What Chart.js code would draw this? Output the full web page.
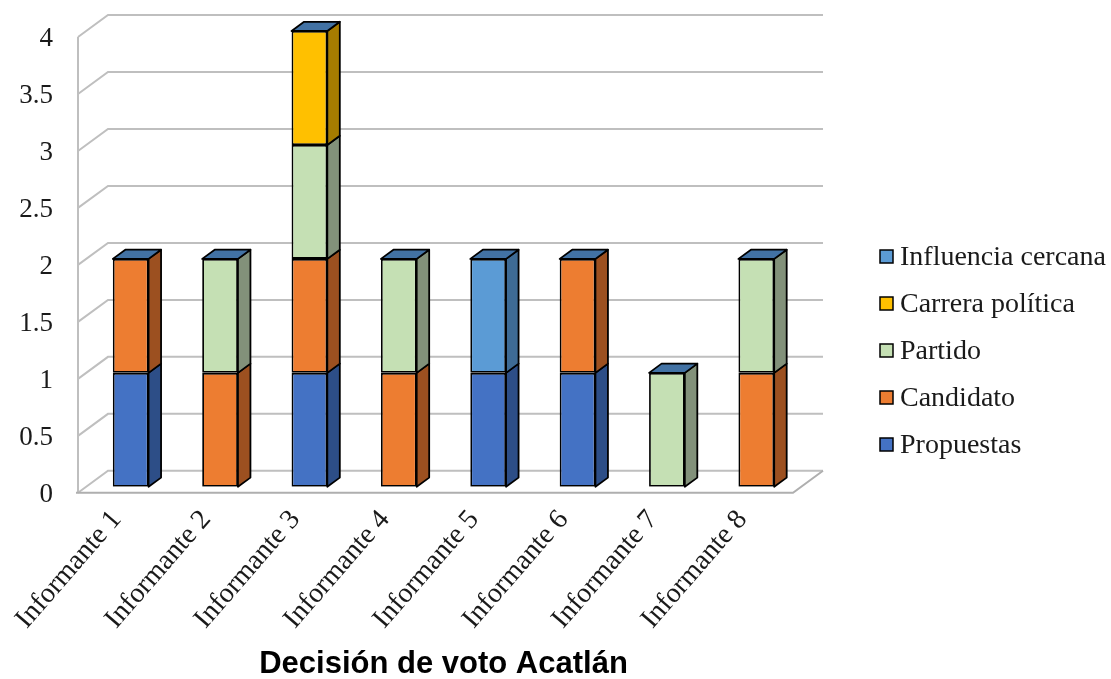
<!DOCTYPE html>
<html>
<head>
<meta charset="utf-8">
<script src="https://cdn.jsdelivr.net/npm/chart.js@4/dist/chart.umd.min.js"></script>
<style>
html,body{margin:0;padding:0;background:#ffffff;}
#wrap{width:1111px;height:679px;position:relative;}
</style>
</head>
<body>
<div id="wrap"><canvas id="c" width="1111" height="679"></canvas></div>
<script>
// ---- data ----
const categories = ['Informante 1','Informante 2','Informante 3','Informante 4','Informante 5','Informante 6','Informante 7','Informante 8'];
const seriesNames = ['Propuestas','Candidato','Partido','Carrera política','Influencia cercana'];
const propuestas = [1,0,1,0,1,1,0,0];
const candidato  = [1,1,1,1,0,1,0,1];
const partido    = [0,1,1,1,0,0,1,1];
const carrera    = [0,0,1,0,0,0,0,0];
const influencia = [0,0,0,0,1,0,0,0];
const yTicks = [0,0.5,1,1.5,2,2.5,3,3.5,4];
const chartTitle = 'Decisión de voto Acatlán';

// ---- styles ----
const frontColors = ['#4472C4','#ED7D31','#C5E0B4','#FFC000','#5B9BD5'];
const sideColors  = ['#2D4E87','#9C5020','#82917A','#A67C00','#3E6B95'];
const topColors   = ['#35588F','#B05D24','#9AAE8C','#BF9000','#4272A4'];
const seriesValues = [propuestas, candidato, partido, carrera, influencia];

const D = {bx: 12.5, by: 9.2, fx: -8, fy: 6, wx: 22, wy: -16};
const EDGE = 1.8;

const threeD = {
  id: 'threeD',
  beforeDatasetsDraw(chart) {
    const {ctx, chartArea: a, scales: {y}} = chart;
    ctx.save();
    ctx.lineWidth = 2;
    ctx.strokeStyle = '#BFBFBF';
    ctx.lineJoin = 'miter';
    yTicks.forEach(v => {
      const py = y.getPixelForValue(v);
      ctx.beginPath();
      ctx.moveTo(a.left + D.fx, py + D.fy);
      ctx.lineTo(a.left + D.wx, py + D.wy);
      ctx.lineTo(a.right + D.wx, py + D.wy);
      ctx.stroke();
    });
    const y0 = y.getPixelForValue(yTicks[0]);
    const yMax = y.getPixelForValue(yTicks[yTicks.length - 1]);
    ctx.beginPath();
    ctx.moveTo(a.left + D.fx, y0 + D.fy);
    ctx.lineTo(a.left + D.fx, yMax + D.fy);
    ctx.stroke();
    ctx.strokeStyle = '#AFAFAF';
    ctx.beginPath();
    ctx.moveTo(a.left + D.fx - 2, y0 + D.fy);
    ctx.lineTo(a.right + D.fx, y0 + D.fy);
    ctx.lineTo(a.right + D.wx, y0 + D.wy);
    ctx.stroke();
    ctx.restore();
  },
  afterDatasetsDraw(chart) {
    const {ctx} = chart;
    ctx.save();
    ctx.lineWidth = EDGE;
    ctx.strokeStyle = '#000';
    ctx.lineJoin = 'round';
    const n = chart.data.labels.length;
    const nds = chart.data.datasets.length;
    for (let i = 0; i < n; i++) {
      let top = null, left = 0, right = 0;
      for (let d = 0; d < nds; d++) {
        const meta = chart.getDatasetMeta(d);
        const el = meta.data[i];
        const raw = chart.data.datasets[d].data[i];
        const p = el.getProps(['x','y','base','width'], true);
        const l = p.x - p.width / 2, r = p.x + p.width / 2;
        const t = Math.min(p.y, p.base), b = Math.max(p.y, p.base);
        if (raw > 0) {
          ctx.fillStyle = sideColors[d];
          ctx.beginPath();
          ctx.moveTo(r, t);
          ctx.lineTo(r + D.bx, t - D.by);
          ctx.lineTo(r + D.bx, b - D.by);
          ctx.lineTo(r, b);
          ctx.closePath();
          ctx.fill();
          ctx.stroke();
          if (top === null || t < top) { top = t; left = l; right = r; }
        }
      }
      if (top !== null) {
        ctx.fillStyle = topColors[nds - 1];
        ctx.beginPath();
        ctx.moveTo(left, top);
        ctx.lineTo(left + D.bx, top - D.by);
        ctx.lineTo(right + D.bx, top - D.by);
        ctx.lineTo(right, top);
        ctx.closePath();
        ctx.fill();
        ctx.stroke();
      }
    }
    ctx.restore();
  },
  afterDraw(chart) {
    const {ctx, chartArea: a} = chart;
    ctx.save();
    const lx = a.right + 79;
    const ly0 = 256.5;
    const step = 47;
    ctx.font = '28px "Liberation Serif"';
    ctx.textBaseline = 'middle';
    ctx.textAlign = 'left';
    const ds = chart.data.datasets;
    for (let k = 0; k < ds.length; k++) {
      const d = ds.length - 1 - k;
      const cy = ly0 + k * step;
      ctx.fillStyle = ds[d].backgroundColor;
      ctx.fillRect(lx, cy - 6.5, 13, 13);
      ctx.lineWidth = 1.5;
      ctx.strokeStyle = '#000';
      ctx.strokeRect(lx, cy - 6.5, 13, 13);
      ctx.fillStyle = '#1a1a1a';
      ctx.fillText(ds[d].label, lx + 20, cy + 1);
    }
    ctx.restore();
  }
};

Chart.defaults.font.family = '"Liberation Serif", serif';
Chart.defaults.color = '#1a1a1a';

new Chart(document.getElementById('c'), {
  type: 'bar',
  data: {
    labels: categories,
    datasets: seriesNames.map((name, k) => ({
      label: name,
      data: seriesValues[k],
      backgroundColor: frontColors[k],
      borderColor: '#000',
      borderWidth: ctx => (ctx.raw ? EDGE : 0),
      borderSkipped: false,
      categoryPercentage: 1.0,
      barPercentage: 0.4
    }))
  },
  options: {
    responsive: false,
    devicePixelRatio: 1,
    animation: false,
    layout: {padding: {left: 0, right: 310, top: 31, bottom: 0}},
    plugins: {
      legend: {display: false},
      tooltip: {enabled: false},
      title: {
        display: true,
        text: chartTitle,
        position: 'bottom',
        fullSize: false,
        color: '#000',
        font: {family: '"Liberation Sans", Arial, sans-serif', size: 31, weight: 'bold'},
        padding: {top: 0, bottom: -4}
      }
    },
    scales: {
      x: {
        stacked: true,
        grid: {display: false, drawTicks: false, tickLength: 0},
        border: {display: false},
        afterFit: s => { s.height = 159; },
        ticks: {
          autoSkip: false,
          maxRotation: 49,
          minRotation: 49,
          padding: 17,
          labelOffset: -14,
          font: {size: 28},
          color: '#1a1a1a'
        }
      },
      y: {
        stacked: true,
        min: 0,
        max: 4,
        afterFit: s => { s.width = 86; s.paddingTop = 0; s.paddingBottom = 0; },
        grid: {display: false, drawTicks: false, tickLength: 0},
        border: {display: false},
        ticks: {
          stepSize: 0.5,
          padding: 33,
          labelOffset: 8,
          font: {size: 27},
          color: '#1a1a1a',
          callback: v => String(v)
        }
      }
    }
  },
  plugins: [threeD]
});
</script>
</body>
</html>
